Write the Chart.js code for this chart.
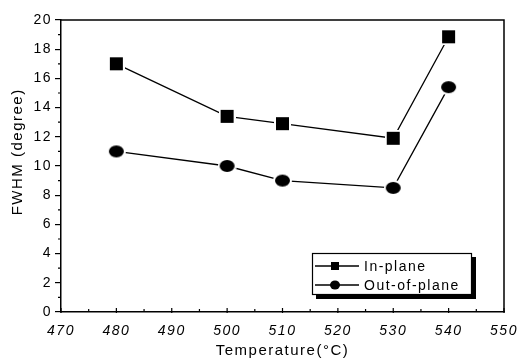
<!DOCTYPE html>
<html><head><meta charset="utf-8">
<script src="https://cdn.jsdelivr.net/npm/chart.js@4"></script>
<style>html,body{margin:0;padding:0;background:#fff}</style>
</head><body>
<canvas id="c" width="518" height="358"></canvas>
<script>
const temperatures = [480, 500, 510, 530, 540];
const inPlane = [17.0, 13.4, 12.9, 11.9, 18.85];
const outOfPlane = [11.0, 10.0, 9.0, 8.5, 15.4];
const seriesNames = ['In-plane', 'Out-of-plane'];
const xTicks = [470, 480, 490, 500, 510, 520, 530, 540, 550];
const yTicks = [0, 2, 4, 6, 8, 10, 12, 14, 16, 18, 20];
const xTitle = 'Temperature(°C)';
const yTitle = 'FWHM (degree)';

const FONT = "'Liberation Sans', Arial, Helvetica, sans-serif";
const SPACING = '1.5px';

function makeMarker(kind) {
  const halo = 2;
  const w = kind === 'square' ? 13 : 15, h = kind === 'square' ? 13 : 12;
  const c = document.createElement('canvas');
  c.width = w + 2 * halo; c.height = h + 2 * halo;
  const g = c.getContext('2d');
  if (kind === 'square') {
    g.fillStyle = '#fff'; g.fillRect(0, 0, c.width, c.height);
    g.fillStyle = '#000'; g.fillRect(halo, halo, w, h);
  } else {
    g.fillStyle = '#fff'; g.beginPath();
    g.ellipse(c.width / 2, c.height / 2, w / 2 + halo, h / 2 + halo, 0, 0, Math.PI * 2); g.fill();
    g.fillStyle = '#000'; g.beginPath();
    g.ellipse(c.width / 2, c.height / 2, w / 2, h / 2, 0, 0, Math.PI * 2); g.fill();
  }
  return c;
}
const squareImg = makeMarker('square');
const circleImg = makeMarker('circle');

function mids(arr) { const m = []; for (let i = 0; i < arr.length - 1; i++) m.push((arr[i] + arr[i + 1]) / 2); return m; }

const framePlugin = {
  id: 'frame',
  beforeUpdate(chart) { chart.ctx.letterSpacing = SPACING; },
  beforeDraw(chart) { chart.ctx.letterSpacing = SPACING; },
  afterDraw(chart) {
    const ctx = chart.ctx, a = chart.chartArea;
    const xs = chart.scales.x, ys = chart.scales.y;
    ctx.save();
    ctx.strokeStyle = '#000';
    ctx.lineWidth = 1.5;
    ctx.beginPath();
    ctx.moveTo(a.left, a.top); ctx.lineTo(a.right, a.top); ctx.lineTo(a.right, a.bottom);
    ctx.stroke();
    ctx.lineWidth = 1.2;
    ctx.beginPath();
    mids(yTicks).forEach(v => { const p = ys.getPixelForValue(v); ctx.moveTo(a.left - 3, p); ctx.lineTo(a.left, p); });
    xTicks.forEach(v => { const p = xs.getPixelForValue(v); ctx.moveTo(p, a.bottom + 1); ctx.lineTo(p, a.bottom - 4); });
    mids(xTicks).forEach(v => { const p = xs.getPixelForValue(v); ctx.moveTo(p, a.bottom); ctx.lineTo(p, a.bottom - 3); });
    ctx.stroke();

    // legend
    const bw = 160, bh = 42;
    const bx = a.right - 32 - bw, by = a.bottom - 17 - bh;
    ctx.fillStyle = '#000';
    ctx.fillRect(bx + 4, by + 4, bw, bh);
    ctx.fillStyle = '#fff';
    ctx.fillRect(bx, by, bw, bh);
    ctx.lineWidth = 1.2;
    ctx.strokeRect(bx + 0.5, by + 0.5, bw - 1, bh - 1);
    chart.data.datasets.forEach((ds, i) => {
      const cy = by + 13 + i * 19;
      ctx.lineWidth = 1.5;
      ctx.beginPath(); ctx.moveTo(bx + 3, cy); ctx.lineTo(bx + 47, cy); ctx.stroke();
      ctx.fillStyle = '#000';
      if (i === 0) { ctx.fillRect(bx + 19, cy - 4, 8, 8); }
      else { ctx.beginPath(); ctx.ellipse(bx + 23, cy, 5, 4.5, 0, 0, Math.PI * 2); ctx.fill(); }
      ctx.font = '14px ' + FONT;
      ctx.letterSpacing = SPACING;
      ctx.textAlign = 'left'; ctx.textBaseline = 'middle';
      ctx.fillText(ds.label, bx + 52, cy + 1);
    });
    ctx.restore();
  }
};

new Chart(document.getElementById('c').getContext('2d'), {
  type: 'line',
  data: {
    datasets: [
      { label: seriesNames[0], data: temperatures.map((t, i) => ({ x: t, y: inPlane[i] })),
        borderColor: '#000', backgroundColor: '#000', borderWidth: 1.3, pointStyle: squareImg,
        pointRadius: 6, pointHoverRadius: 6, fill: false, tension: 0 },
      { label: seriesNames[1], data: temperatures.map((t, i) => ({ x: t, y: outOfPlane[i] })),
        borderColor: '#000', backgroundColor: '#000', borderWidth: 1.3, pointStyle: circleImg,
        pointRadius: 6, pointHoverRadius: 6, fill: false, tension: 0 }
    ]
  },
  options: {
    responsive: false, animation: false, devicePixelRatio: 1,
    layout: { padding: { top: 20, right: 14, left: 0, bottom: 0 } },
    plugins: { legend: { display: false }, tooltip: { enabled: false } },
    scales: {
      x: {
        type: 'linear', min: xTicks[0], max: xTicks[xTicks.length - 1],
        afterBuildTicks: s => { s.ticks = xTicks.map(v => ({ value: v })); },
        afterFit: s => { s.height = 46; s.paddingRight = 0; s.paddingLeft = 0; },
        grid: { display: false },
        border: { display: true, color: '#000', width: 1.5 },
        ticks: { color: '#000', padding: 3, autoSkip: false, maxRotation: 0,
          font: { family: FONT, size: 14, style: 'italic' } },
        title: { display: true, text: xTitle, color: '#000',
          font: { family: FONT, size: 15, lineHeight: 1 }, padding: { top: 0, bottom: 0 } }
      },
      y: {
        type: 'linear', min: yTicks[0], max: yTicks[yTicks.length - 1],
        afterBuildTicks: s => { s.ticks = yTicks.map(v => ({ value: v })); },
        afterFit: s => { s.width = 61; s.paddingTop = 0; s.paddingBottom = 0; },
        grid: { display: true, drawOnChartArea: false, drawTicks: true, tickLength: 6,
          color: '#000', tickColor: '#000', lineWidth: 1.2 },
        border: { display: true, color: '#000', width: 1.5 },
        ticks: { color: '#000', padding: 3, font: { family: FONT, size: 14 } },
        title: { display: true, text: '     ' + yTitle, color: '#000',
          font: { family: FONT, size: 15, lineHeight: 1 }, padding: { top: 10, bottom: 0 } }
      }
    }
  },
  plugins: [framePlugin]
});
</script>
</body></html>
